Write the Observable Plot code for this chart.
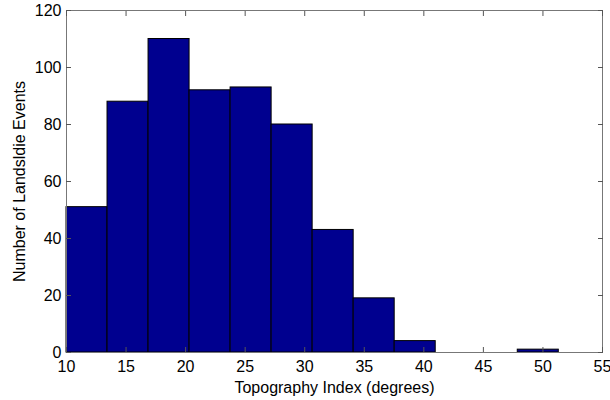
<!DOCTYPE html>
<html>
<head>
<meta charset="utf-8">
<script src="https://cdn.jsdelivr.net/npm/d3@7"></script>
<script src="https://cdn.jsdelivr.net/npm/@observablehq/plot@0.6"></script>
<style>
  html, body { margin: 0; padding: 0; background: #fff; }
  svg { font-family: "Liberation Sans", Arial, sans-serif; }
</style>
</head>
<body>
<div id="chart"></div>
<script>
// Histogram bins (Topography Index, degrees) and counts
const binStart = 10;
const binWidth = 41.33 / 12; // 12 equal bins from 10 to ~51.33
const counts = [51, 88, 110, 92, 93, 80, 43, 19, 4, 0, 0, 1];
const xTicks = [10, 15, 20, 25, 30, 35, 40, 45, 50, 55];
const yTicks = [0, 20, 40, 60, 80, 100, 120];

const bins = counts.map((c, i) => ({
  x1: binStart + i * binWidth,
  x2: binStart + (i + 1) * binWidth,
  count: c
}));

const chart = Plot.plot({
  width: 610,
  height: 400,
  marginLeft: 66,
  marginRight: 8,
  marginTop: 10,
  marginBottom: 48,
  style: { fontFamily: "Liberation Sans, Arial, sans-serif", fontSize: "16px", color: "#000" },
  x: { domain: [10, 55] },
  y: { domain: [0, 120] },
  marks: [
    Plot.rectY(bins.filter(d => d.count > 0), {
      x1: "x1", x2: "x2", y1: 0, y2: "count",
      fill: "#00008f", stroke: "#000", strokeWidth: 1
    }),
    Plot.frame({ stroke: "#777", strokeWidth: 1 }),
    // inward ticks, all four sides
    Plot.axisX({ anchor: "bottom", ticks: xTicks, tickSize: -5, tickFormat: () => "", label: null, stroke: "#555" }),
    Plot.axisX({ anchor: "top", ticks: xTicks, tickSize: -5, tickFormat: () => "", label: null, stroke: "#555" }),
    Plot.axisY({ anchor: "left", ticks: yTicks, tickSize: -5, tickFormat: () => "", label: null, stroke: "#555" }),
    Plot.axisY({ anchor: "right", ticks: yTicks, tickSize: -5, tickFormat: () => "", label: null, stroke: "#555" }),
    // tick labels
    Plot.axisX({ anchor: "bottom", ticks: xTicks, tickSize: 0, tickPadding: 8, fontSize: 16,
      label: "Topography Index (degrees)", labelAnchor: "center", labelArrow: "none", labelOffset: 40 }),
    Plot.axisY({ anchor: "left", ticks: yTicks, tickSize: 0, tickPadding: 5, fontSize: 16,
      label: "Number of Landsldie Events", labelAnchor: "center", labelArrow: "none", labelOffset: 53 })
  ]
});
document.getElementById("chart").appendChild(chart);
</script>
</body>
</html>
